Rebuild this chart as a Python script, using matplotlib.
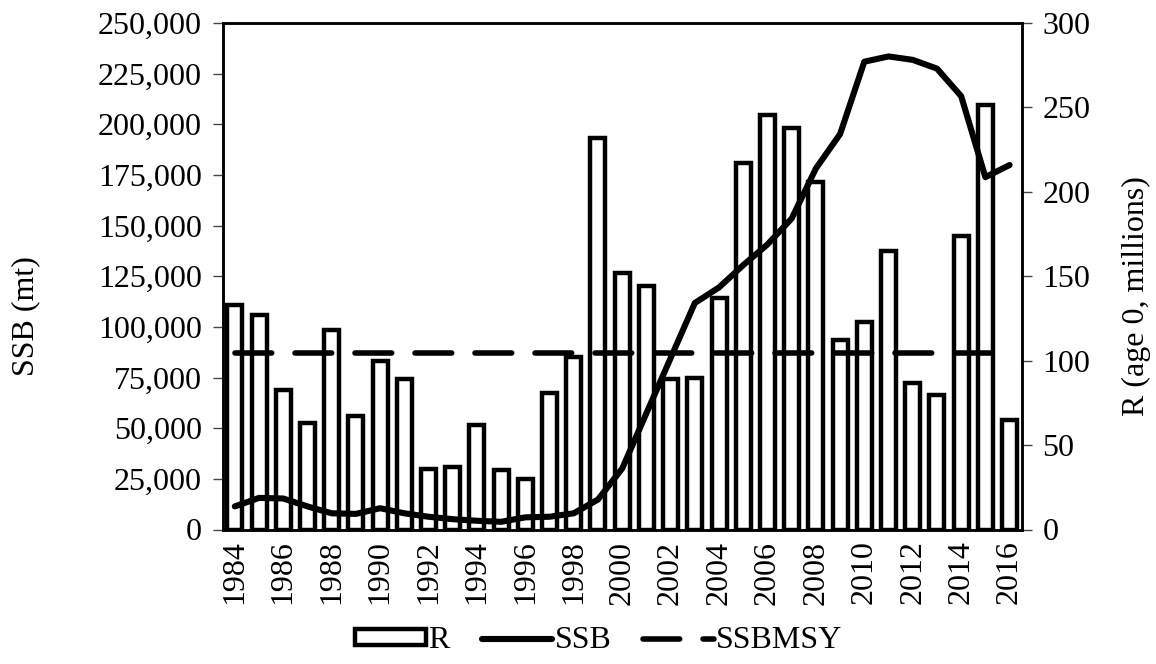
import numpy as np
import matplotlib
matplotlib.use("Agg")
import matplotlib.pyplot as plt
from matplotlib.ticker import FuncFormatter, FixedLocator
from matplotlib.patches import Patch
from matplotlib.lines import Line2D

plt.rcParams['font.family'] = ['Liberation Serif', 'DejaVu Serif']
plt.rcParams['font.size'] = 23

# data
years = list(range(1984, 2017))
recruits = [133, 127, 82.5, 63, 118, 67.5, 100, 89, 36, 37, 62, 35, 30, 81, 102,
            232, 152, 144, 89, 90, 137, 217, 245.5, 238, 206, 112, 123, 165, 87,
            79.5, 174, 251.5, 65]
ssb = [11400, 15600, 15300, 11400, 8000, 7700, 10500, 8000, 6300, 5100, 4300,
       3800, 6000, 6300, 8000, 14800, 30100, 57400, 84600, 111800, 119500,
       130500, 140700, 153500, 178200, 195200, 230900, 233500, 231800, 227500,
       213900, 173900, 179900]
ssb_msy = 87100

x = np.arange(len(years))

fig = plt.figure(figsize=(11.56, 6.64), dpi=100)
ax = fig.add_axes([222.7 / 1156, 1 - 529.5 / 664, (1021.7 - 222.7) / 1156, (529.5 - 23) / 664])
ax2 = ax.twinx()

# bars on right axis, lines drawn above
ax2.bar(x, recruits, width=0.62, color='white', edgecolor='black', linewidth=3.2, zorder=2)
ax.set_zorder(ax2.get_zorder() + 1)
ax.patch.set_visible(False)

ax.plot(x, ssb, color='black', linewidth=4.4, solid_capstyle='round',
        solid_joinstyle='round', zorder=3)
ax.plot([x[0], x[-1]], [ssb_msy, ssb_msy], color='black', linewidth=4.0,
        dashes=(6.6, 4.2), dash_capstyle='round', zorder=3)

ax.set_xlim(-0.5, len(years) - 0.5)
ax.set_ylim(0, 250000)
ax2.set_ylim(0, 300)
ax.set_yticks(np.arange(0, 250001, 25000))
ax2.set_yticks(np.arange(0, 301, 50))
ax.yaxis.set_major_formatter(FuncFormatter(lambda v, p: f"{int(v):,}"))

# ticks between categories, labels every other year
ax.xaxis.set_major_locator(FixedLocator(np.arange(-0.5, len(years), 1)))
ax.xaxis.set_major_formatter(FuncFormatter(lambda v, p: ""))
ax.xaxis.set_minor_locator(FixedLocator(x[::2]))
ax.set_xticklabels([str(y) for y in years[::2]], minor=True, rotation=90)
ax.tick_params(axis='x', which='major', length=7, width=1, color='#444444', direction='out')
ax.tick_params(axis='x', which='minor', length=0, pad=8)
ax.tick_params(axis='y', length=7, width=1, color='#444444', pad=8)
ax2.tick_params(axis='y', length=7, width=1, color='#444444', pad=8)
ax2.set_xticks([])

for a in (ax, ax2):
    for s in a.spines.values():
        s.set_linewidth(1.8)
        s.set_color('black')

fig.text(26 / 1156, 1 - 316 / 664, 'SSB (mt)', rotation=90, ha='center', va='center')
fig.text(1136 / 1156, 1 - 296 / 664, 'R (age 0, millions)', rotation=90, ha='center', va='center')

handles = [
    Patch(facecolor='white', edgecolor='black', linewidth=3.2),
    Line2D([], [], color='black', linewidth=4.4, solid_capstyle='round'),
    Line2D([], [], color='black', linewidth=4.0, dashes=(6.6, 4.2), dash_capstyle='round'),
]
fig.legend(handles, ['R', 'SSB', 'SSBMSY'], loc='center', bbox_to_anchor=(599 / 1156, 1 - 641 / 664),
           ncol=3, frameon=False, handlelength=2.2, handleheight=0.35, handletextpad=0.08,
           columnspacing=1.0, borderaxespad=0)

fig.savefig('out.png', dpi=100)
